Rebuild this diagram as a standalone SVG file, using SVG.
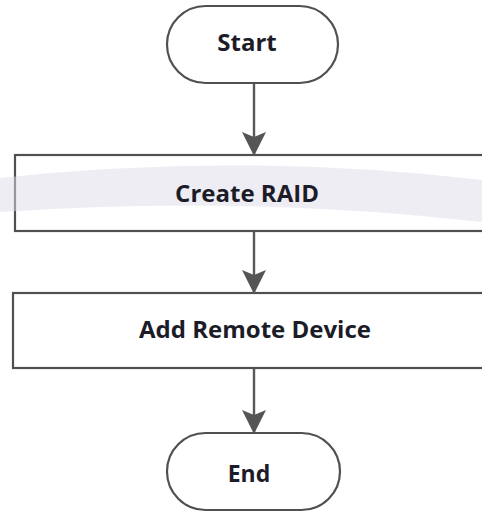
<svg xmlns="http://www.w3.org/2000/svg" width="482" height="512" viewBox="0 0 482 512">
  <defs>
    <style>
      .shape { fill: #ffffff; stroke: #505050; stroke-width: 2.2; }
      .label { font-family: "Open Sans", "Liberation Sans", sans-serif; font-weight: bold; font-size: 24px; fill: #1c1c28; text-anchor: middle; }
      .conn { stroke: #585858; stroke-width: 2.4; fill: none; }
      .wm { fill: #dcdce8; opacity: 0.5; }
    </style>
    <marker id="arrow" viewBox="0 0 24 24" refX="23" refY="12" markerWidth="24" markerHeight="24" markerUnits="userSpaceOnUse" orient="auto">
      <path d="M0,0 L24,12 L0,24 L5,12 Z" fill="#555555"/>
    </marker>
  </defs>
  <rect width="482" height="512" fill="#ffffff"/>

  <g id="start">
    <rect class="shape" x="167" y="6" width="171" height="77" rx="38.5" ry="38.5"/>
    <text class="label" x="247" y="51">Start</text>
  </g>

  <g id="create-raid">
    <rect class="shape" x="15" y="155" width="480" height="76"/>
    <path class="wm" d="M0,178 Q240,152 482,180 L482,222 Q240,195 0,212 Z"/>
    <text class="label" x="247" y="202">Create RAID</text>
  </g>

  <g id="add-remote-device">
    <rect class="shape" x="13" y="293" width="482" height="75"/>
    <text class="label" x="255" y="338">Add Remote Device</text>
  </g>

  <g id="end">
    <rect class="shape" x="167" y="433" width="173" height="77" rx="38.5" ry="38.5"/>
    <text class="label" x="249" y="482" style="font-size:23px">End</text>
  </g>

  <g id="connectors">
    <line class="conn" x1="254" y1="84" x2="254" y2="155" marker-end="url(#arrow)"/>
    <line class="conn" x1="254" y1="232" x2="254" y2="293" marker-end="url(#arrow)"/>
    <line class="conn" x1="254" y1="369" x2="254" y2="433" marker-end="url(#arrow)"/>
  </g>
</svg>
